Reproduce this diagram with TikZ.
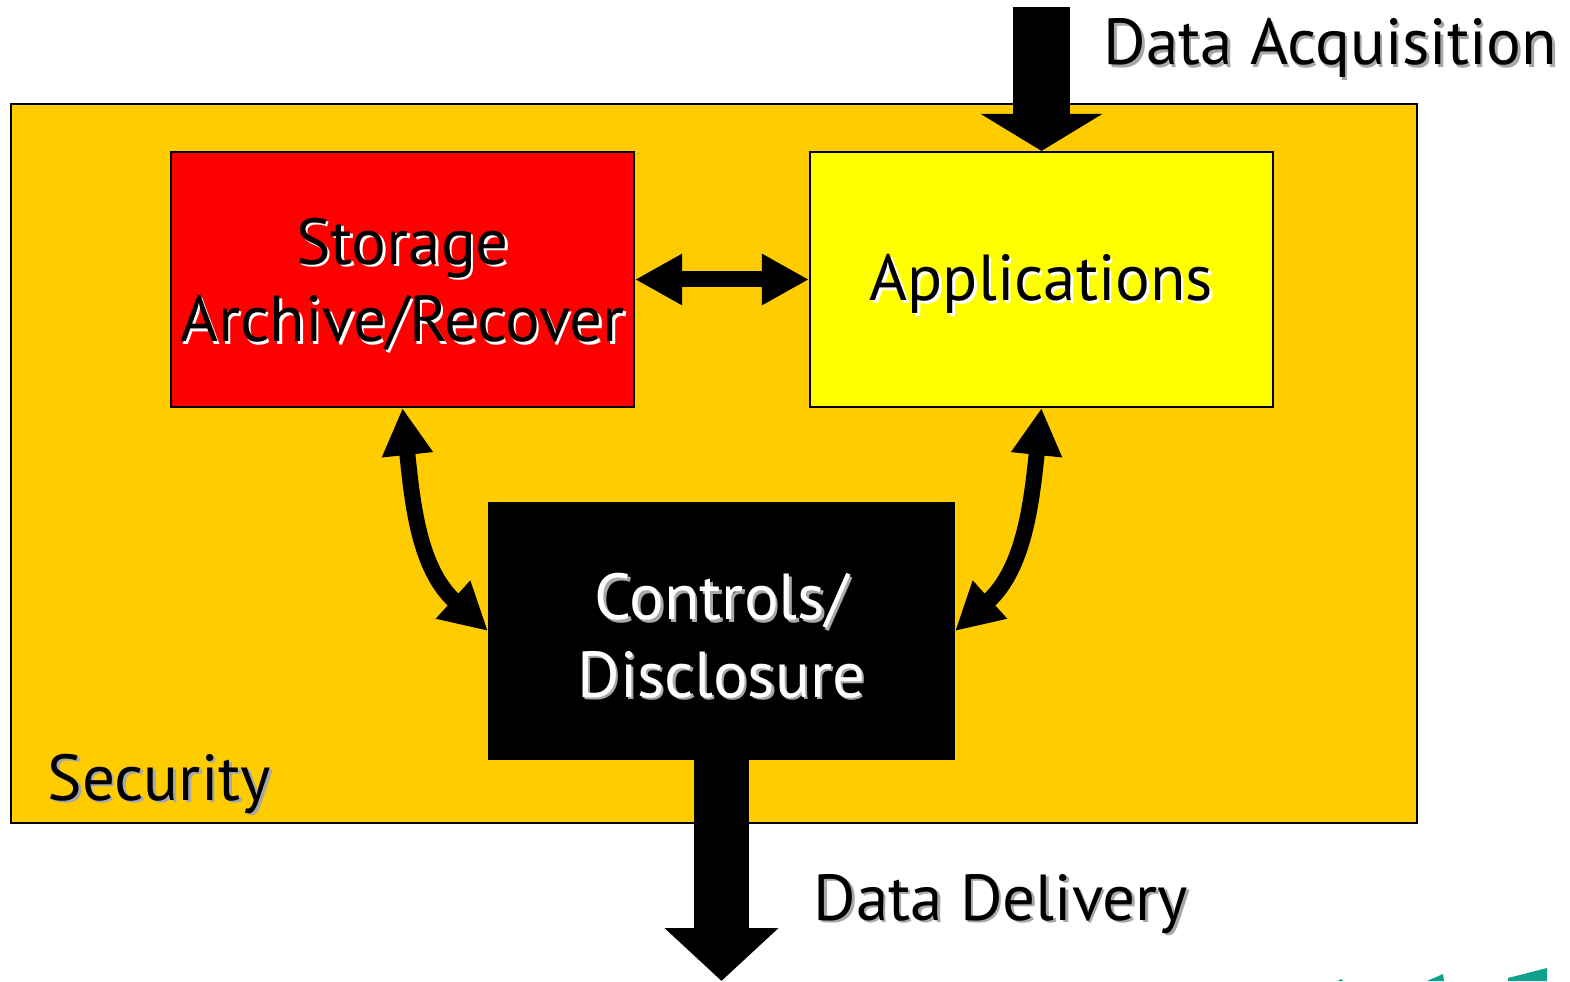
\documentclass[tikz,border=0pt]{standalone}
\usepackage{fontspec}
\setmainfont{PT Sans}
\usetikzlibrary{arrows.meta}
\definecolor{secorange}{HTML}{FFCC00}
\definecolor{storered}{HTML}{FF0000}
\definecolor{appyellow}{HTML}{FFFF00}
\definecolor{shadegray}{HTML}{A8A8A8}
\definecolor{logoteal}{HTML}{10A08C}
% text with a drop shadow: shadow colour, text colour, text
\newcommand\shtxt[3]{\makebox[0pt][l]{\hspace{0.025cm}\raisebox{-0.025cm}{\color{#1}#3}}{\color{#2}#3}}

\begin{document}
\begin{tikzpicture}[
  font=\fontsize{18.5}{22}\selectfont,
  box/.style={draw=black, line width=0.6pt, inner sep=0pt,
    minimum width=4.63cm, minimum height=2.55cm},
  boxtxt/.style={inner sep=0pt, align=center, yshift=-0.06cm},
  dbl/.style={line width=0.16cm,
    {Triangle[length=0.47cm,width=0.48cm]}-{Triangle[length=0.47cm,width=0.48cm]}},
  flow/.style={line width=0.57cm, -{Triangle[length=0.37cm,width=1.2cm]}}
]
  \useasboundingbox (0,0) rectangle (15.70,9.81);

  % Security frame
  \node[box, fill=secorange, minimum width=14.06cm, minimum height=7.19cm] (sec) at (7.14,5.175) {};
  \node[anchor=base west, inner sep=0pt] (seclbl) at (0.47,1.81) {\shtxt{shadegray}{black}{Security}};

  % the three blocks
  \node[box, fill=storered] (sto) at (4.025,7.015) {};
  \node[box, fill=appyellow] (app) at (10.415,7.015) {};
  \node[box, fill=black, minimum width=4.65cm, minimum height=2.56cm] (ctl) at (7.215,3.50) {};
  \node[boxtxt] (stolbl) at (sto.center)
    {\shtxt{white}{black}{Storage}\\\shtxt{white}{black}{Archive/Recover}};
  \node[boxtxt] (applbl) at (app.center) {\shtxt{white}{black}{Applications}};
  \node[boxtxt] (ctllbl) at (ctl.center)
    {\shtxt{shadegray}{white}{Controls/}\\\shtxt{shadegray}{white}{Disclosure}};

  % links between the blocks
  \draw[dbl] (sto.east) -- (app.west);
  \draw[dbl] (sto.south) to[out=-84, in=138] (ctl.west);
  \draw[dbl] (app.south) to[out=-96, in=42] (ctl.east);

  % data in and out
  \coordinate (acq) at (10.415,9.74);
  \coordinate (dlv) at (7.215,0);
  \draw[flow] (acq) -- (app.north);
  \draw[flow, line width=0.55cm, -{Triangle[length=0.53cm,width=1.11cm]}] (ctl.south) -- (dlv);
  \node[anchor=base west, inner sep=0pt] (acqlbl) at (11.03,9.16) {\shtxt{shadegray}{black}{Data Acquisition}};
  \node[anchor=base west, inner sep=0pt] (dlvlbl) at (8.13,0.61) {\shtxt{shadegray}{black}{Data Delivery}};

  % cut-off logo in the corner
  \fill[logoteal] (13.38,0) -- (13.41,0.02) -- (13.43,0) -- cycle;
  \fill[logoteal] (14.27,0) -- (14.43,0.07) -- (14.44,0) -- cycle;
  \fill[logoteal] (15.08,0) -- (15.08,0.03) -- (15.47,0.13) -- (15.47,0) -- cycle;
\end{tikzpicture}
\end{document}
